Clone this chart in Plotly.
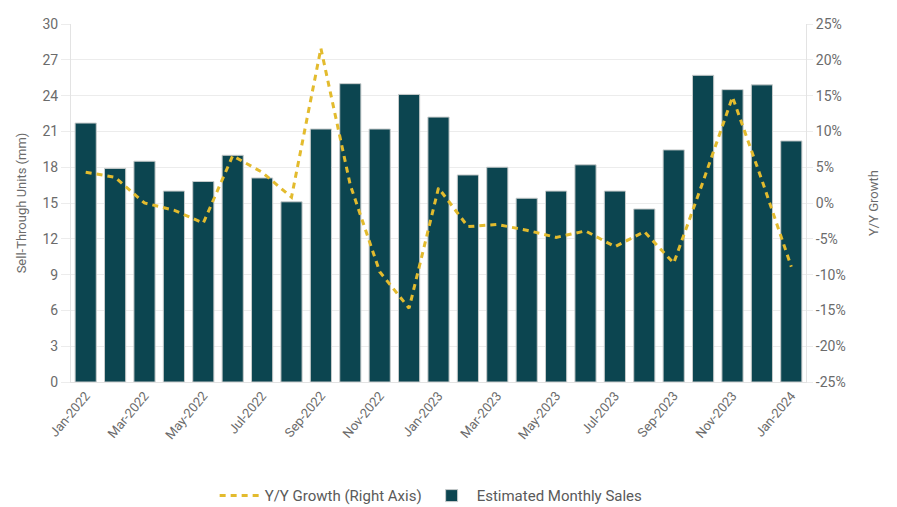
import plotly.graph_objects as go

months = [
    "Jan-2022", "Feb-2022", "Mar-2022", "Apr-2022", "May-2022", "Jun-2022",
    "Jul-2022", "Aug-2022", "Sep-2022", "Oct-2022", "Nov-2022", "Dec-2022",
    "Jan-2023", "Feb-2023", "Mar-2023", "Apr-2023", "May-2023", "Jun-2023",
    "Jul-2023", "Aug-2023", "Sep-2023", "Oct-2023", "Nov-2023", "Dec-2023",
    "Jan-2024",
]
monthly_sales = [
    21.7, 17.9, 18.5, 16.0, 16.8, 19.0, 17.1, 15.1, 21.2, 25.0, 21.2, 24.1,
    22.2, 17.35, 18.0, 15.4, 16.0, 18.2, 16.0, 14.5, 19.45, 25.7, 24.5, 24.9,
    20.2,
]
yoy_growth = [
    4.3, 3.6, 0.0, -1.0, -2.8, 6.6, 4.3, 0.8, 21.6, 2.5, -9.6, -14.7,
    2.1, -3.3, -3.0, -3.8, -4.8, -3.9, -6.1, -4.0, -8.4, 3.0, 14.8, 3.2,
    -8.9,
]
left_ticks = [0, 3, 6, 9, 12, 15, 18, 21, 24, 27, 30]
right_ticks = [-25, -20, -15, -10, -5, 0, 5, 10, 15, 20, 25]
right_labels = [f"{v}%" for v in right_ticks]
shown_months = months[::2]

FONT = "Roboto, 'Open Sans', sans-serif"
GREY = "#6b6b6b"

fig = go.Figure()
fig.add_trace(go.Bar(
    x=months, y=monthly_sales, name="Estimated Monthly Sales",
    marker=dict(color="#0c4550", line=dict(color="#c8cccc", width=1)),
    width=0.72, legendrank=2,
))
fig.add_trace(go.Scatter(
    x=months, y=yoy_growth, yaxis="y2", mode="lines",
    name="Y/Y Growth (Right Axis)",
    line=dict(color="#e3bb2e", width=3, dash="6px,5px"),
    legendrank=1,
))

fig.update_layout(
    width=897, height=507,
    margin=dict(l=71, r=91, t=24, b=125, autoexpand=False),
    paper_bgcolor="white", plot_bgcolor="white",
    font=dict(family=FONT, color=GREY, size=13),
    showlegend=True,
    legend=dict(orientation="h", x=0.49, xanchor="center", y=-0.318,
                yanchor="middle", font=dict(size=15, color="#5a5a5a"),
                itemwidth=40, traceorder="normal"),
    xaxis=dict(
        type="category", tickmode="array", tickvals=shown_months,
        ticktext=shown_months, tickangle=-50, tickfont=dict(size=13),
        showgrid=False, showline=True, linecolor="#e3e3e3", ticks="",
        range=[-0.5, len(months) - 0.5], automargin=False,
    ),
    yaxis=dict(
        range=[0, 30], tickvals=left_ticks, showgrid=True,
        gridcolor="#ececec", gridwidth=1, showline=True, linecolor="#e3e3e3",
        ticks="outside", ticklen=9, tickcolor="#ececec", zeroline=False,
        automargin=False, tickfont=dict(size=14),
        title=dict(text="Sell-Through Units (mm)", font=dict(size=13),
                   standoff=12),
    ),
    yaxis2=dict(
        range=[-25, 25], tickvals=right_ticks, ticktext=right_labels,
        overlaying="y", side="right", showgrid=False, zeroline=False,
        showline=True, linecolor="#e3e3e3", ticks="outside", ticklen=6,
        tickcolor="#ececec", automargin=False, tickfont=dict(size=14),
        title=dict(text="Y/Y Growth", font=dict(size=13), standoff=24),
    ),
)

fig.write_html("out.html")
